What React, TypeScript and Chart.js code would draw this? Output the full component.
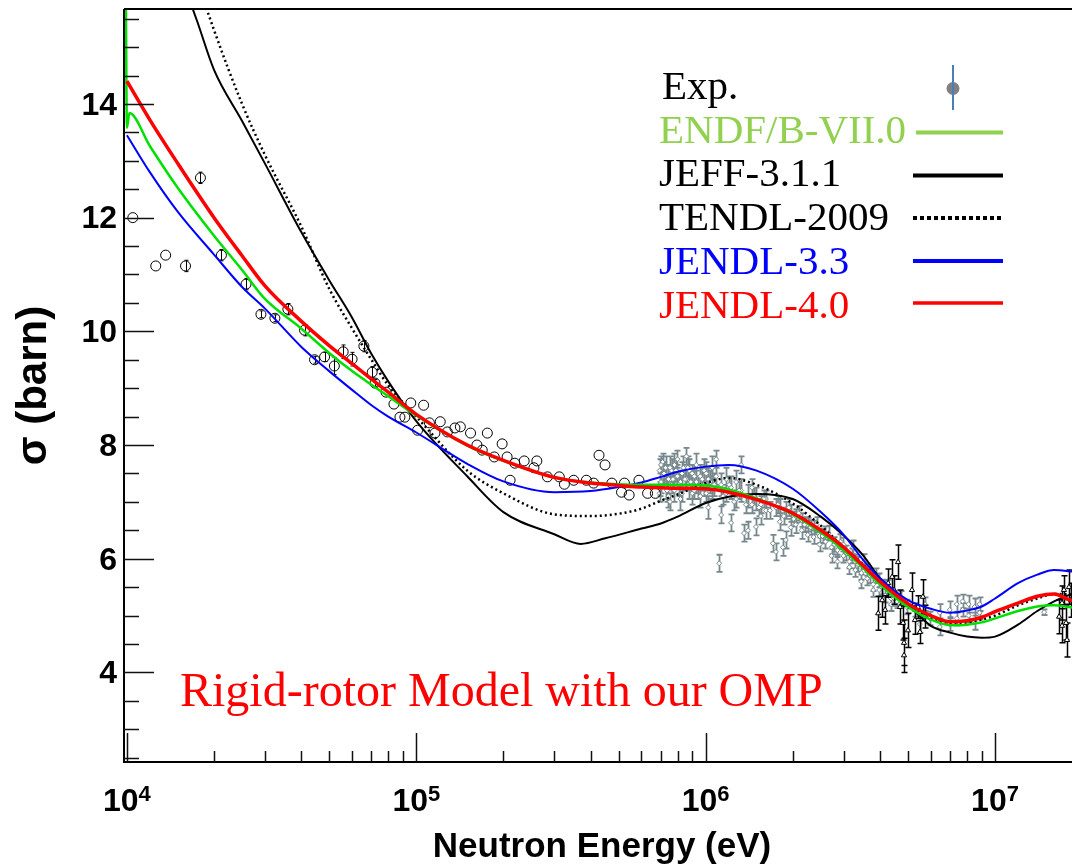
import React, { useEffect, useRef } from "react";
import { Chart, registerables } from "chart.js";

Chart.register(...registerables);

// ---------- axes ----------
const X_MIN = 9.77e3;
const X_MAX = 1.845e7;
const Y_MIN = 2.424;
const Y_MAX = 15.67;
const Y_TICK_VALUES = [4, 6, 8, 10, 12, 14];
const X_TICK_EXPONENTS = [4, 5, 6, 7];

// ---------- texts ----------
const X_TITLE = "Neutron Energy (eV)";
const Y_TITLE = "σ (barn)";
const ANNOTATION = "Rigid-rotor Model with our OMP";
const LEGEND_NAMES = ["Exp.", "ENDF/B-VII.0", "JEFF-3.1.1", "TENDL-2009", "JENDL-3.3", "JENDL-4.0"];

// ---------- evaluated curves ----------
const GRID_E = [
  1e4, 1.2e4, 1.5e4, 2e4, 2.5e4, 3e4, 4e4, 5e4, 6e4, 7e4, 8e4, 1e5, 1.5e5, 2e5, 3e5, 4e5, 5e5, 6e5, 7e5, 8e5,
  1e6, 1.2e6, 1.5e6, 2e6, 2.5e6, 3e6, 3.5e6, 4e6, 5e6, 6e6, 7e6, 8e6, 9e6, 1e7, 1.2e7, 1.4e7, 1.6e7, 1.8e7, 2e7,
];
const JENDL40_S = [
  14.4, 13.72, 12.95, 12.0, 11.33, 10.8, 10.18, 9.75, 9.43, 9.16, 8.93, 8.54, 8.0, 7.73, 7.43, 7.33, 7.29, 7.26, 7.25, 7.24,
  7.23, 7.17, 7.04, 6.8, 6.5, 6.2, 5.88, 5.6, 5.21, 5.0, 4.89, 4.91, 4.97, 5.07, 5.22, 5.34, 5.38, 5.28, 5.22,
];
const JENDL33_S = [
  13.45, 12.8, 12.1, 11.35, 10.78, 10.4, 9.73, 9.3, 8.97, 8.7, 8.5, 8.22, 7.67, 7.36, 7.17, 7.19, 7.26, 7.34, 7.44, 7.53,
  7.62, 7.65, 7.55, 7.23, 6.82, 6.42, 5.98, 5.66, 5.27, 5.12, 5.05, 5.09, 5.16, 5.3, 5.57, 5.72, 5.8, 5.78, 5.75,
];
const TENDL_S = [
  20.5, 18.9, 17.2, 15.3, 14.0, 13.1, 11.85, 10.75, 10.05, 9.5, 9.05, 8.5, 7.55, 7.15, 6.78, 6.75, 6.79, 6.88, 7.02, 7.13,
  7.33, 7.42, 7.3, 6.97, 6.58, 6.2, 5.9, 5.6, 5.15, 4.95, 4.86, 4.88, 4.93, 5.0, 5.18, 5.3, 5.38, 5.37, 5.35,
];
const ENDF_E = [
  9.9e3, 1.0e4, 1.02e4, 1.2e4, 1.5e4, 2e4, 2.5e4, 3e4, 4e4, 5e4, 6e4, 7e4, 8e4, 1e5, 1.5e5, 2e5, 3e5, 4e5, 5e5, 6e5, 7e5, 8e5,
  1e6, 1.2e6, 1.5e6, 2e6, 2.5e6, 3e6, 3.5e6, 4e6, 5e6, 6e6, 7e6, 8e6, 9e6, 1e7, 1.2e7, 1.4e7, 1.6e7, 1.8e7, 2e7,
];
const ENDF_S = [
  16.5, 13.58, 13.84, 13.26, 12.52, 11.68, 11.08, 10.57, 10.05, 9.62, 9.3, 9.06, 8.86, 8.52, 7.99, 7.72, 7.43, 7.34, 7.31, 7.3, 7.3, 7.3,
  7.29, 7.22, 7.06, 6.78, 6.46, 6.15, 5.84, 5.55, 5.15, 4.93, 4.83, 4.84, 4.88, 4.95, 5.08, 5.16, 5.18, 5.15, 5.12,
];
const JEFF_E = [
  1e4, 1.2e4, 1.5e4, 1.75e4, 2e4, 2.5e4, 3e4, 4e4, 5e4, 6e4, 7e4, 8e4, 1e5, 1.5e5, 2e5, 3e5, 3.7e5, 4.5e5, 6e5, 7e5, 8e5,
  1e6, 1.2e6, 1.5e6, 2e6, 2.5e6, 3e6, 3.5e6, 4e6, 5e6, 6e6, 7e6, 8e6, 9e6, 1e7, 1.2e7, 1.4e7, 1.6e7, 1.8e7, 2e7,
];
const JEFF_S = [
  19.3, 17.7, 16.4, 15.45, 14.6, 13.7, 12.95, 11.75, 10.9, 10.24, 9.6, 9.12, 8.42, 7.45, 6.82, 6.43, 6.26, 6.36, 6.53, 6.62, 6.74,
  6.98, 7.09, 7.14, 7.05, 6.74, 6.41, 6.06, 5.66, 5.2, 4.82, 4.7, 4.63, 4.61, 4.63, 4.84, 5.08, 5.25, 5.36, 5.45,
];

// ---------- experimental data ----------
const EXP_LOW_E = [
  1.048e4, 1.258e4, 1.361e4, 1.594e4, 1.795e4, 2.121e4, 2.58e4, 2.905e4, 3.246e4, 3.599e4, 4.11e4, 4.45e4, 4.82e4, 5.21e4,
  5.59e4, 6.0e4, 6.59e4, 7.04e4, 7.2e4, 7.86e4, 8.37e4, 8.78e4, 9.13e4, 9.57e4, 1.01e5, 1.06e5, 1.11e5, 1.16e5, 1.21e5,
  1.28e5, 1.36e5, 1.42e5, 1.54e5, 1.62e5, 1.69e5, 1.76e5, 1.86e5, 1.98e5, 2.06e5, 2.11e5, 2.19e5, 2.36e5, 2.55e5, 2.61e5,
  2.84e5, 3.12e5, 3.25e5, 3.5e5, 3.87e5, 4.1e5, 4.28e5, 4.49e5, 4.74e5, 5.12e5, 5.24e5, 5.44e5, 5.88e5, 6.3e5, 6.7e5,
];
const EXP_LOW_S = [
  12.0, 11.15, 11.34, 11.15, 12.7, 11.34, 10.83, 10.3, 10.23, 10.39, 10.02, 9.5, 9.55, 9.39,
  9.64, 9.51, 9.74, 9.28, 9.09, 8.93, 8.72, 8.49, 8.49, 8.74, 8.26, 8.7, 8.39, 8.21, 8.41,
  8.23, 8.3, 8.32, 8.21, 8.0, 7.91, 8.21, 7.79, 8.02, 7.79, 7.38, 7.68, 7.72, 7.6, 7.72,
  7.44, 7.44, 7.31, 7.38, 7.38, 7.33, 7.82, 7.65, 7.33, 7.17, 7.33, 7.12, 7.38, 7.15, 7.15,
];
const EXP_LOW_ERR = [
  0, 0, 0, 0.1, 0.1, 0.1, 0.1, 0.06, 0.06, 0.1, 0.1, 0.06, 0.08, 0.15,
  0.12, 0.12, 0.1, 0.1, 0.06, 0, 0, 0, 0, 0, 0, 0, 0, 0, 0,
  0, 0, 0, 0, 0, 0, 0, 0, 0, 0, 0, 0, 0, 0, 0,
  0, 0, 0, 0, 0, 0, 0, 0, 0, 0, 0, 0, 0, 0, 0,
];

const EXP_GRAY_E = [
  6.93e5, 6.93e5, 6.93e5, 7.1e5, 7.1e5, 7.27e5, 7.27e5, 7.44e5, 7.44e5, 7.62e5, 7.62e5, 7.8e5, 7.8e5, 7.99e5, 7.99e5,
  8.18e5, 8.18e5, 8.38e5, 8.58e5, 8.58e5, 8.78e5, 8.78e5, 8.99e5, 8.99e5, 9.28e5, 9.28e5, 9.58e5, 9.58e5, 9.89e5, 9.89e5,
  1.021e6, 1.021e6, 1.054e6, 1.054e6, 1.087e6, 1.087e6, 1.113e6, 1.131e6, 1.131e6, 1.177e6, 1.177e6, 1.224e6, 1.224e6,
  1.274e6, 1.274e6, 1.326e6, 1.326e6, 1.357e6, 1.401e6, 1.401e6, 1.445e6, 1.445e6, 1.492e6, 1.492e6, 1.552e6, 1.552e6,
  1.615e6, 1.615e6, 1.707e6, 1.748e6, 1.748e6, 1.804e6, 1.804e6, 1.848e6, 1.892e6, 1.892e6, 1.968e6, 1.968e6,
  2.047e6, 2.047e6, 2.146e6, 2.146e6, 2.251e6, 2.251e6, 2.36e6, 2.36e6, 2.475e6, 2.475e6, 2.595e6, 2.595e6,
  2.722e6, 2.722e6, 2.854e6, 2.854e6, 2.992e6, 2.992e6, 3.138e6, 3.138e6, 3.238e6, 3.29e6, 3.29e6, 3.45e6, 3.45e6,
  3.618e6, 3.618e6, 3.793e6, 3.793e6, 3.977e6, 3.977e6, 4.171e6, 4.171e6, 4.373e6, 4.373e6, 4.586e6, 5.287e6,
  5.501e6, 5.723e6, 5.953e6, 6.444e6, 6.444e6, 6.973e6, 6.973e6, 7.37e6, 7.37e6, 7.727e6, 7.727e6, 8.102e6, 8.102e6,
  8.496e6, 8.496e6, 8.841e6, 8.841e6, 1.478e7,
  7.01e5, 7.18e5, 7.35e5, 7.53e5, 7.71e5, 7.89e5, 8.08e5, 8.28e5, 8.48e5, 8.68e5, 8.89e5, 9.14e5, 9.43e5, 9.73e5,
  1.005e6, 1.037e6, 1.07e6, 7.01e5, 7.53e5, 8.28e5, 9.14e5, 1.005e6,
  1.149e6, 1.205e6, 1.254e6, 1.304e6, 1.378e6, 1.469e6, 1.528e6, 1.59e6, 1.667e6, 1.776e6, 1.862e6, 1.937e6, 2.015e6,
  2.096e6, 2.198e6, 2.305e6, 2.416e6, 2.534e6, 2.658e6, 2.787e6, 2.922e6, 3.064e6, 3.213e6, 3.369e6, 3.533e6, 3.704e6,
  3.884e6, 4.073e6, 4.271e6, 4.479e6, 4.731e6, 4.962e6,
];
const EXP_GRAY_S = [
  7.3, 7.55, 7.15, 7.45, 7.7, 7.25, 7.6, 7.4, 7.1, 7.55, 7.3, 7.65, 7.2, 7.45, 7.75,
  7.35, 7.05, 7.6, 7.8, 7.4, 7.25, 7.55, 7.5, 7.15, 7.35, 7.65, 7.45, 7.1, 7.55, 7.3,
  7.4, 6.9, 7.6, 7.25, 7.45, 7.75, 5.92, 6.77, 7.3, 7.4, 7.15, 7.25, 6.63,
  7.35, 7.05, 7.65, 7.2, 6.45, 7.1, 6.5, 7.25, 6.95, 6.56, 7.05, 6.95, 6.75,
  6.85, 7.05, 6.27, 6.12, 6.9, 6.9, 6.65, 6.2, 6.33, 6.85, 6.8, 6.55,
  6.6, 6.75, 6.5, 6.68, 6.42, 6.6, 6.55, 6.38, 6.4, 6.25, 6.3, 6.45,
  6.2, 6.05, 6.15, 5.95, 6.05, 6.25, 5.95, 5.85, 6.2, 5.8, 5.95, 5.75, 5.6,
  5.65, 5.8, 5.55, 5.45, 5.45, 5.62, 5.35, 5.5, 5.3, 5.2, 5.25, 5.1,
  4.85, 5.2, 4.95, 5.05, 4.8, 5.1, 4.85, 5.2, 4.95, 5.1, 5.25, 5.0, 5.2,
  5.15, 4.9, 5.2, 5.05, 5.06,
  7.35, 7.5, 7.2, 7.6, 7.4, 7.55, 7.3, 7.5, 7.4, 7.6, 7.35, 7.45, 7.25, 7.4,
  7.5, 7.35, 7.3, 7.65, 7.0, 7.15, 7.2, 7.15,
  7.1, 7.3, 7.0, 7.2, 6.95, 7.1, 6.9, 7.05, 6.85, 6.95, 6.75, 6.9, 6.7,
  6.8, 6.6, 6.55, 6.6, 6.4, 6.45, 6.25, 6.3, 6.1, 6.05, 5.9, 5.95, 5.7,
  5.7, 5.5, 5.5, 5.3, 5.3, 5.15,
];
const EXP_GRAY_ERR = [
  0.2, 0.2, 0.15, 0.2, 0.15, 0.2, 0.2, 0.25, 0.2, 0.2, 0.15, 0.2, 0.2, 0.2, 0.15,
  0.2, 0.2, 0.2, 0.15, 0.2, 0.2, 0.2, 0.15, 0.2, 0.2, 0.2, 0.2, 0.2, 0.2, 0.2,
  0.2, 0.2, 0.2, 0.2, 0.15, 0.15, 0.15, 0.15, 0.2, 0.2, 0.15, 0.2, 0.15,
  0.2, 0.15, 0.15, 0.2, 0.15, 0.2, 0.15, 0.15, 0.15, 0.15, 0.2, 0.15, 0.15,
  0.15, 0.15, 0.15, 0.15, 0.15, 0.15, 0.15, 0.15, 0.15, 0.15, 0.15, 0.15,
  0.15, 0.12, 0.15, 0.12, 0.12, 0.12, 0.12, 0.12, 0.12, 0.12, 0.12, 0.12,
  0.12, 0.12, 0.12, 0.12, 0.12, 0.12, 0.12, 0.12, 0.12, 0.12, 0.12, 0.12, 0.12,
  0.12, 0.1, 0.12, 0.12, 0.12, 0.12, 0.12, 0.12, 0.12, 0.12, 0.12, 0.12,
  0.15, 0.12, 0.12, 0.15, 0.15, 0.15, 0.12, 0.15, 0.12, 0.12, 0.12, 0.12, 0.15,
  0.15, 0.15, 0.12, 0.12, 0.05,
  0.2, 0.2, 0.2, 0.2, 0.2, 0.2, 0.2, 0.2, 0.2, 0.2, 0.2, 0.2, 0.2, 0.2,
  0.2, 0.2, 0.2, 0.15, 0.15, 0.15, 0.15, 0.15,
  0.15, 0.15, 0.15, 0.15, 0.15, 0.15, 0.15, 0.15, 0.15, 0.15, 0.15, 0.15, 0.13,
  0.13, 0.13, 0.13, 0.13, 0.13, 0.13, 0.13, 0.13, 0.13, 0.13, 0.13, 0.13, 0.13,
  0.13, 0.13, 0.13, 0.13, 0.13, 0.13,
];

const EXP_HIGH_E = [
  3.946e6, 4.073e6, 4.171e6, 4.271e6, 4.409e6, 4.479e6, 4.622e6, 4.696e6, 4.809e6, 4.847e6, 5.002e6, 5.163e6, 5.287e6,
  5.414e6, 5.501e6, 5.633e6, 5.723e6, 4.847e6, 1.665e7, 1.704e7, 1.731e7, 1.759e7, 1.773e7, 1.801e7, 1.83e7, 1.704e7,
];
const EXP_HIGH_S = [
  5.04, 5.27, 5.1, 5.57, 5.68, 5.45, 5.94, 5.15, 4.87, 4.52, 4.74, 5.45, 4.92,
  5.15, 4.71, 5.33, 4.98, 4.3, 4.98, 5.22, 5.45, 4.87, 4.57, 5.5, 5.27, 4.82,
];
const EXP_HIGH_ERR = [
  0.3, 0.3, 0.25, 0.25, 0.3, 0.25, 0.3, 0.3, 0.3, 0.4, 0.3, 0.3, 0.25,
  0.2, 0.2, 0.3, 0.2, 0.3, 0.3, 0.3, 0.25, 0.3, 0.3, 0.3, 0.3, 0.3,
];

// ---------- styles ----------
const SANS = '"Liberation Sans", Arial, Helvetica, sans-serif';
const SERIF = '"Liberation Serif", "Times New Roman", Times, serif';
const C_RED = "#ff0000";
const C_GREEN = "#00e000";
const C_GREEN_LEGEND = "#92d050";
const C_BLUE = "#0000ff";
const C_BLACK = "#000000";
const C_GRAY = "#77888d";

const pts = (xs: number[], ys: number[]) => xs.map((x, i) => ({ x, y: ys[i] }));

const errorBarPlugin = {
  id: "errorBars",
  beforeDatasetDraw(chart: any, args: any) {
    const ds = chart.data.datasets[args.index];
    if (!ds.errorBars) return;
    const { ctx, chartArea: a, scales } = chart;
    ctx.save();
    ctx.beginPath();
    ctx.rect(a.left, a.top, a.right - a.left, a.bottom - a.top);
    ctx.clip();
    ctx.strokeStyle = ds.errorColor;
    ctx.lineWidth = ds.errorWidth;
    const cap = ds.errorCap;
    ctx.beginPath();
    ds.data.forEach((p: any, i: number) => {
      const e = ds.errorBars[i];
      if (!e) return;
      const x = Math.round(scales.x.getPixelForValue(p.x)) + 0.5;
      const y1 = scales.y.getPixelForValue(p.y - e);
      const y2 = scales.y.getPixelForValue(p.y + e);
      ctx.moveTo(x, y1);
      ctx.lineTo(x, y2);
      if (cap > 0) {
        ctx.moveTo(x - cap, y1);
        ctx.lineTo(x + cap, y1);
        ctx.moveTo(x - cap, y2);
        ctx.lineTo(x + cap, y2);
      }
    });
    ctx.stroke();
    ctx.restore();
  },
};

const decorPlugin = {
  id: "decor",
  afterDraw(chart: any) {
    const { ctx, chartArea: a, scales } = chart;
    const xs = scales.x;
    const ys = scales.y;
    ctx.save();
    // frame
    ctx.strokeStyle = "#000";
    ctx.lineWidth = 2;
    ctx.beginPath();
    ctx.moveTo(a.left, a.top);
    ctx.lineTo(a.right, a.top);
    ctx.moveTo(a.left, a.top);
    ctx.lineTo(a.left, a.bottom);
    ctx.lineTo(a.right, a.bottom);
    ctx.stroke();

    // y ticks
    ctx.lineWidth = 1.5;
    ctx.strokeStyle = "#111";
    ctx.beginPath();
    for (let k = 5; k * 0.5 <= Y_MAX; k++) {
      const v = k * 0.5;
      if (v < Y_MIN) continue;
      const y = Math.round(ys.getPixelForValue(v)) + 0.5;
      const len = k % 4 === 0 ? 30 : 15;
      ctx.moveTo(a.left, y);
      ctx.lineTo(a.left + len, y);
    }
    // x ticks
    for (let e = 3; e <= 7; e++) {
      for (let m = 1; m <= 9; m++) {
        const v = m * Math.pow(10, e);
        if (v < X_MIN || v > X_MAX) continue;
        const x = Math.round(xs.getPixelForValue(v)) + 0.5;
        const len = m === 1 ? 29 : 11;
        ctx.moveTo(x, a.bottom);
        ctx.lineTo(x, a.bottom - len);
      }
    }
    ctx.stroke();

    // y tick labels
    ctx.fillStyle = "#000";
    ctx.font = `bold 32px ${SANS}`;
    ctx.textAlign = "right";
    ctx.textBaseline = "middle";
    Y_TICK_VALUES.forEach((v) => {
      ctx.fillText(String(v), a.left - 7, ys.getPixelForValue(v) + 2);
    });

    // x tick labels 10^n
    ctx.textBaseline = "alphabetic";
    ctx.textAlign = "left";
    X_TICK_EXPONENTS.forEach((n) => {
      const x = xs.getPixelForValue(Math.pow(10, n));
      ctx.font = `bold 32px ${SANS}`;
      const wBase = ctx.measureText("10").width;
      ctx.font = `bold 22px ${SANS}`;
      const wExp = ctx.measureText(String(n)).width;
      const start = x - (wBase + wExp) / 2;
      ctx.font = `bold 32px ${SANS}`;
      ctx.fillText("10", start, 811);
      ctx.font = `bold 22px ${SANS}`;
      ctx.fillText(String(n), start + wBase, 801);
    });

    // axis titles
    ctx.font = `bold 35px ${SANS}`;
    ctx.textAlign = "center";
    ctx.fillText(X_TITLE, (a.left + a.right) / 2 + 4, 857);
    ctx.save();
    ctx.translate(46, (a.top + a.bottom) / 2);
    ctx.rotate(-Math.PI / 2);
    ctx.font = `bold 42px ${SANS}`;
    ctx.fillText(Y_TITLE, 0, 0);
    ctx.restore();

    // annotation
    ctx.font = `48px ${SERIF}`;
    ctx.textAlign = "left";
    ctx.fillStyle = C_RED;
    ctx.fillText(ANNOTATION, 180, 706);

    // legend
    const textColors = [C_BLACK, C_GREEN_LEGEND, C_BLACK, C_BLACK, C_BLUE, C_RED];
    const baselines = [99, 142.5, 186, 230, 274, 317.5];
    ctx.font = `41px ${SERIF}`;
    LEGEND_NAMES.forEach((name, i) => {
      ctx.fillStyle = textColors[i];
      ctx.fillText(name, i === 0 ? 662 : 659, baselines[i]);
    });
    // Exp marker
    ctx.fillStyle = "#808080";
    ctx.beginPath();
    ctx.arc(953, 88.5, 6.5, 0, Math.PI * 2);
    ctx.fill();
    ctx.strokeStyle = "#4a7ebb";
    ctx.lineWidth = 2;
    ctx.beginPath();
    ctx.moveTo(953, 65);
    ctx.lineTo(953, 110);
    ctx.stroke();
    // line samples
    const samples = [
      { y: 132.5, color: C_GREEN_LEGEND, w: 4, dash: [] as number[], x0: 916 },
      { y: 175.5, color: C_BLACK, w: 4, dash: [] as number[], x0: 913 },
      { y: 218, color: C_BLACK, w: 4, dash: [4, 3], x0: 913 },
      { y: 261, color: C_BLUE, w: 4, dash: [] as number[], x0: 913 },
      { y: 303, color: C_RED, w: 3.5, dash: [] as number[], x0: 913 },
    ];
    samples.forEach((s) => {
      ctx.strokeStyle = s.color;
      ctx.lineWidth = s.w;
      ctx.setLineDash(s.dash);
      ctx.beginPath();
      ctx.moveTo(s.x0, s.y);
      ctx.lineTo(1003, s.y);
      ctx.stroke();
    });
    ctx.setLineDash([]);
    ctx.restore();
  },
};

export default function App() {
  const ref = useRef<HTMLCanvasElement | null>(null);

  useEffect(() => {
    const canvas = ref.current;
    if (!canvas) return;
    const curve = (label: string, data: any[], color: string, width: number, order: number, dash: number[] = []) => ({
      label,
      data,
      showLine: true,
      borderColor: color,
      backgroundColor: color,
      borderWidth: width,
      borderDash: dash,
      pointRadius: 0,
      pointHoverRadius: 0,
      cubicInterpolationMode: "monotone",
      fill: false,
      order,
    });

    const chart = new Chart(canvas, {
      type: "scatter",
      data: {
        datasets: [
          {
            label: "Exp. (gray)",
            data: pts(EXP_GRAY_E, EXP_GRAY_S),
            pointStyle: "rectRot",
            pointRadius: 2.5,
            borderColor: C_GRAY,
            backgroundColor: "#ffffff",
            borderWidth: 1,
            showLine: false,
            order: 10,
            errorBars: EXP_GRAY_ERR,
            errorColor: C_GRAY,
            errorWidth: 1.8,
            errorCap: 3,
          } as any,
          {
            label: "Exp. (high)",
            data: pts(EXP_HIGH_E, EXP_HIGH_S),
            pointStyle: "triangle",
            pointRadius: 3,
            borderColor: C_BLACK,
            backgroundColor: "#ffffff",
            borderWidth: 1,
            showLine: false,
            order: 9,
            errorBars: EXP_HIGH_ERR,
            errorColor: C_BLACK,
            errorWidth: 1.5,
            errorCap: 3,
          } as any,
          {
            label: "Exp. (low)",
            data: pts(EXP_LOW_E, EXP_LOW_S),
            pointStyle: "circle",
            pointRadius: 5,
            borderColor: C_BLACK,
            backgroundColor: "rgba(0,0,0,0)",
            borderWidth: 1,
            showLine: false,
            order: 8,
            errorBars: EXP_LOW_ERR,
            errorColor: C_BLACK,
            errorWidth: 1,
            errorCap: 2,
          } as any,
          curve("TENDL-2009", pts(GRID_E, TENDL_S), C_BLACK, 2.5, 5, [2, 3]) as any,
          curve("JEFF-3.1.1", pts(JEFF_E, JEFF_S), C_BLACK, 2, 4) as any,
          curve("JENDL-3.3", pts(GRID_E, JENDL33_S), C_BLUE, 2, 3) as any,
          curve("ENDF/B-VII.0", pts(ENDF_E, ENDF_S), C_GREEN, 2.5, 2) as any,
          curve("JENDL-4.0", pts(GRID_E, JENDL40_S), C_RED, 3.5, 1) as any,
        ],
      },
      options: {
        animation: false,
        responsive: false,
        devicePixelRatio: 1,
        events: [],
        layout: { padding: { top: 9, right: 0, bottom: 0, left: 0 } },
        plugins: { legend: { display: false }, tooltip: { enabled: false }, title: { display: false } },
        scales: {
          x: {
            type: "logarithmic",
            min: X_MIN,
            max: X_MAX,
            grid: { display: false, drawTicks: false },
            border: { display: false },
            ticks: { display: false },
            afterFit: (s: any) => {
              s.height = 105;
            },
          },
          y: {
            type: "linear",
            min: Y_MIN,
            max: Y_MAX,
            grid: { display: false, drawTicks: false },
            border: { display: false },
            ticks: { display: false },
            afterFit: (s: any) => {
              s.width = 124;
            },
          },
        },
      } as any,
      plugins: [errorBarPlugin, decorPlugin],
    });
    return () => chart.destroy();
  }, []);

  return (
    <div style={{ position: "absolute", left: 0, top: 0, width: 1078, height: 867, background: "#ffffff", overflow: "hidden" }}>
      <canvas ref={ref} width={1078} height={867} style={{ display: "block" }} />
    </div>
  );
}
